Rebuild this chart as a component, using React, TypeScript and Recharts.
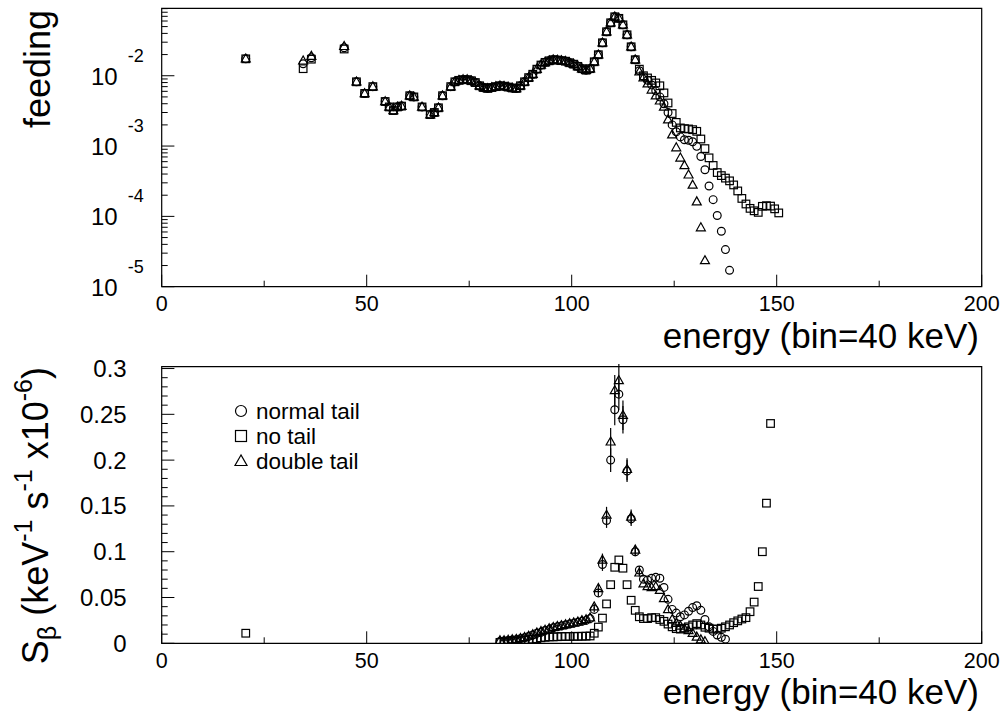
import React from 'react';
import { ScatterChart, Scatter, XAxis, YAxis, ErrorBar, ReferenceArea } from 'recharts';

// ---------- axis ticks ----------
const X_TICKS = [0, 25, 50, 75, 100, 125, 150, 175, 200];
const X_MAJOR = [0, 50, 100, 150, 200];
const TOP_DECADES = [1e-5, 1e-4, 1e-3, 1e-2];
const TOP_DECADE_EXP = ['-5', '-4', '-3', '-2'];
const TOP_MINOR_MULT = [2, 3, 4, 5, 6, 7, 8, 9];
const TOP_Y_DOMAIN: [number, number] = [1e-5, 0.091];
const BOT_Y_TICKS = [0, 0.01, 0.02, 0.03, 0.04, 0.05, 0.06, 0.07, 0.08, 0.09, 0.1, 0.11, 0.12, 0.13, 0.14, 0.15, 0.16, 0.17, 0.18, 0.19, 0.2, 0.21, 0.22, 0.23, 0.24, 0.25, 0.26, 0.27, 0.28, 0.29, 0.3];
const BOT_Y_MAJOR = [0, 0.05, 0.1, 0.15, 0.2, 0.25, 0.3];
const BOT_Y_LABELS = ['0', '0.05', '0.1', '0.15', '0.2', '0.25', '0.3'];
const BOT_Y_DOMAIN: [number, number] = [0, 0.302];

const LEGEND = ['normal tail', 'no tail', 'double tail'];

// ---------- top panel: feeding (log) ----------
const topShared: [number, number][] = [
  [20.5, 0.0174], [47.5, 0.0082], [49.5, 0.0056], [51.5, 0.0070], [54.5, 0.0043],
  [55.5, 0.0036], [56.5, 0.0032], [57.5, 0.0036], [58.5, 0.0037], [60.5, 0.0052],
  [61.5, 0.0050], [63.5, 0.0036], [65.5, 0.0028], [66.5, 0.0030], [67.5, 0.0035],
  [68.5, 0.0052], [70.5, 0.0070], [71.5, 0.0082], [72.5, 0.0086], [73.5, 0.0088],
  [74.5, 0.0088], [75.5, 0.0085], [76.5, 0.0080], [77.5, 0.0072], [78.5, 0.0068],
  [79.5, 0.0066], [80.5, 0.0068], [81.5, 0.0070], [82.5, 0.0072], [83.5, 0.0071],
  [84.5, 0.0069], [85.5, 0.0067], [86.5, 0.0066], [87.5, 0.0072], [88.5, 0.0082],
  [89.5, 0.0094], [90.5, 0.0105], [91.5, 0.0124], [92.5, 0.0142], [93.5, 0.0155],
  [94.5, 0.0163], [95.5, 0.0169], [96.5, 0.0167], [97.5, 0.0164], [98.5, 0.0161],
  [99.5, 0.0153], [100.5, 0.0146], [101.5, 0.0136], [102.5, 0.0126], [103.5, 0.0120],
  [104.5, 0.0126], [105.5, 0.0158], [106.5, 0.0199], [107.5, 0.0294], [108.5, 0.0422],
  [109.5, 0.0566], [110.5, 0.0689], [111.5, 0.0655], [112.5, 0.0530], [113.5, 0.0382],
  [114.5, 0.0258], [115.5, 0.0169],
];
const topNormal: [number, number][] = [
  [34.5, 0.0148], [36.5, 0.0180], [44.5, 0.0250],
  [116.5, 0.0118], [117.5, 0.0097], [118.5, 0.0086], [119.5, 0.0074], [120.5, 0.0061],
  [121.5, 0.0050], [122.5, 0.0040], [123.5, 0.0030], [124.5, 0.0020], [125.5, 0.0016],
  [126.5, 0.00135], [127.5, 0.00123], [128.5, 0.00121], [129.5, 0.00115], [130.5, 0.00099],
  [131.5, 0.00071], [132.5, 0.00046], [133.5, 0.00027], [134.5, 0.000173], [135.5, 0.000103],
  [136.5, 0.0000614], [137.5, 0.0000337], [138.5, 0.0000171],
];
const topNoTail: [number, number][] = [
  [34.5, 0.0126], [36.5, 0.0172], [44.5, 0.0240],
  [116.5, 0.0124], [117.5, 0.0100], [118.5, 0.0093], [119.5, 0.0086], [120.5, 0.0079],
  [121.5, 0.0072], [122.5, 0.0057], [123.5, 0.0041], [124.5, 0.0029], [125.5, 0.00217],
  [126.5, 0.00181], [127.5, 0.00177], [128.5, 0.00175], [129.5, 0.00171], [130.5, 0.00162],
  [131.5, 0.00126], [132.5, 0.00092], [133.5, 0.00068], [134.5, 0.00053], [135.5, 0.00042],
  [136.5, 0.00038], [137.5, 0.00035], [138.5, 0.00032], [139.5, 0.00028], [140.5, 0.00023],
  [141.5, 0.00018], [142.5, 0.00015], [143.5, 0.00013], [144.5, 0.00012], [145.5, 0.000114],
  [146.5, 0.000139], [147.5, 0.000142], [148.5, 0.00014], [149.5, 0.000128], [150.5, 0.000112],
];
const topDouble: [number, number][] = [
  [34.5, 0.0163], [36.5, 0.0190], [44.5, 0.0262],
  [116.5, 0.0114], [117.5, 0.0094], [118.5, 0.0077], [119.5, 0.0063], [120.5, 0.0052],
  [121.5, 0.0044], [122.5, 0.0036], [123.5, 0.00237], [124.5, 0.00145], [125.5, 0.00095],
  [126.5, 0.00068], [127.5, 0.00053], [128.5, 0.00039], [129.5, 0.00028], [130.5, 0.000162],
  [131.5, 0.0000693], [132.5, 0.0000236],
];

// ---------- bottom panel: S_beta (linear) [energy, value, error] ----------
const botNormal: [number, number, number][] = [
  [82.5, 0.002, 0], [83.5, 0.0025, 0], [84.5, 0.003, 0], [85.5, 0.0035, 0], [86.5, 0.004, 0],
  [87.5, 0.005, 0], [88.5, 0.006, 0], [89.5, 0.0075, 0], [90.5, 0.009, 0], [91.5, 0.011, 0],
  [92.5, 0.012, 0], [93.5, 0.014, 0], [94.5, 0.015, 0], [95.5, 0.017, 0], [96.5, 0.018, 0],
  [97.5, 0.019, 0], [98.5, 0.020, 0], [99.5, 0.021, 0], [100.5, 0.022, 0], [101.5, 0.023, 0],
  [102.5, 0.024, 0], [103.5, 0.025, 0], [104.5, 0.027, 0], [105.5, 0.037, 0.003], [106.5, 0.055, 0.004],
  [107.5, 0.086, 0.007], [108.5, 0.134, 0.008], [109.5, 0.200, 0.013], [110.5, 0.255, 0.017], [111.5, 0.272, 0.017],
  [112.5, 0.244, 0.015], [113.5, 0.188, 0.012], [114.5, 0.136, 0.008], [115.5, 0.100, 0.005], [116.5, 0.080, 0.004],
  [117.5, 0.070, 0], [118.5, 0.069, 0], [119.5, 0.071, 0], [120.5, 0.072, 0], [121.5, 0.071, 0],
  [122.5, 0.061, 0], [123.5, 0.048, 0], [124.5, 0.037, 0], [125.5, 0.033, 0], [126.5, 0.029, 0],
  [127.5, 0.031, 0], [128.5, 0.035, 0], [129.5, 0.039, 0], [130.5, 0.041, 0], [131.5, 0.036, 0],
  [132.5, 0.026, 0], [133.5, 0.018, 0], [134.5, 0.013, 0], [135.5, 0.009, 0], [136.5, 0.0065, 0],
  [137.5, 0.0045, 0],
];
const botNoTail: [number, number, number][] = [
  [20.5, 0.011, 0],
  [82.5, 0.001, 0], [83.5, 0.0015, 0], [84.5, 0.002, 0], [85.5, 0.002, 0], [86.5, 0.0025, 0],
  [87.5, 0.003, 0], [88.5, 0.0035, 0], [89.5, 0.004, 0], [90.5, 0.0045, 0], [91.5, 0.005, 0],
  [92.5, 0.006, 0], [93.5, 0.0065, 0], [94.5, 0.007, 0], [95.5, 0.007, 0], [96.5, 0.0072, 0],
  [97.5, 0.0074, 0], [98.5, 0.0075, 0], [99.5, 0.0075, 0], [100.5, 0.0076, 0], [101.5, 0.0076, 0],
  [102.5, 0.0077, 0], [103.5, 0.0078, 0], [104.5, 0.008, 0], [105.5, 0.011, 0], [106.5, 0.0177, 0],
  [107.5, 0.0275, 0], [108.5, 0.043, 0], [109.5, 0.064, 0], [110.5, 0.083, 0], [111.5, 0.091, 0],
  [112.5, 0.082, 0], [113.5, 0.064, 0], [114.5, 0.047, 0], [115.5, 0.036, 0], [116.5, 0.029, 0],
  [117.5, 0.027, 0], [118.5, 0.027, 0], [119.5, 0.028, 0], [120.5, 0.028, 0], [121.5, 0.026, 0],
  [122.5, 0.024, 0], [123.5, 0.021, 0], [124.5, 0.018, 0], [125.5, 0.016, 0], [126.5, 0.0155, 0],
  [127.5, 0.0165, 0], [128.5, 0.018, 0], [129.5, 0.020, 0], [130.5, 0.0215, 0], [131.5, 0.020, 0],
  [132.5, 0.0175, 0], [133.5, 0.0165, 0], [134.5, 0.0155, 0], [135.5, 0.0155, 0], [136.5, 0.0165, 0],
  [137.5, 0.018, 0], [138.5, 0.020, 0], [139.5, 0.0225, 0], [140.5, 0.0245, 0], [141.5, 0.0265, 0],
  [142.5, 0.028, 0], [143.5, 0.0345, 0], [144.5, 0.045, 0], [145.5, 0.062, 0], [146.5, 0.100, 0],
  [147.5, 0.153, 0], [148.5, 0.240, 0],
];
const botDouble: [number, number, number][] = [
  [82.5, 0.003, 0], [83.5, 0.003, 0], [84.5, 0.0035, 0], [85.5, 0.004, 0], [86.5, 0.0045, 0],
  [87.5, 0.0055, 0], [88.5, 0.0065, 0], [89.5, 0.008, 0], [90.5, 0.0095, 0], [91.5, 0.0115, 0],
  [92.5, 0.013, 0], [93.5, 0.0145, 0], [94.5, 0.016, 0], [95.5, 0.0175, 0], [96.5, 0.0185, 0],
  [97.5, 0.0195, 0], [98.5, 0.0205, 0], [99.5, 0.0215, 0], [100.5, 0.0225, 0], [101.5, 0.0235, 0],
  [102.5, 0.025, 0], [103.5, 0.026, 0], [104.5, 0.028, 0], [105.5, 0.040, 0.003], [106.5, 0.060, 0.004],
  [107.5, 0.091, 0.007], [108.5, 0.140, 0.009], [109.5, 0.220, 0.015], [110.5, 0.276, 0.017], [111.5, 0.287, 0.018],
  [112.5, 0.249, 0.016], [113.5, 0.190, 0.012], [114.5, 0.138, 0.008], [115.5, 0.102, 0.005], [116.5, 0.077, 0.004],
  [117.5, 0.065, 0], [118.5, 0.062, 0], [119.5, 0.061, 0], [120.5, 0.062, 0], [121.5, 0.058, 0],
  [122.5, 0.049, 0], [123.5, 0.037, 0], [124.5, 0.026, 0], [125.5, 0.022, 0], [126.5, 0.019, 0],
  [127.5, 0.016, 0], [128.5, 0.014, 0], [129.5, 0.011, 0], [130.5, 0.007, 0], [131.5, 0.004, 0],
  [132.5, 0.002, 0],
];

const FONT = '"Liberation Sans", Arial, Helvetica, sans-serif';
const SW = 1.2;

const toPts = (arr: [number, number][]) => arr.map(([x, y]) => ({ x, y }));
const toPtsE = (arr: [number, number, number][]) => arr.map(([x, y, e]) => ({ x, y, e }));

// ---------- marker shapes ----------
const CircleShape = (p: any) => {
  if (p.cx == null || p.cy == null) return null;
  return <circle cx={p.cx} cy={p.cy} r={3.9} fill="none" stroke="#000" strokeWidth={SW} />;
};
const SquareShape = (p: any) => {
  if (p.cx == null || p.cy == null) return null;
  return <rect x={p.cx - 3.8} y={p.cy - 3.8} width={7.6} height={7.6} fill="none" stroke="#000" strokeWidth={SW} />;
};
const TriangleShape = (p: any) => {
  if (p.cx == null || p.cy == null) return null;
  const { cx, cy } = p;
  return <polygon points={`${cx},${cy - 4.8} ${cx - 4.5},${cy + 3.2} ${cx + 4.5},${cy + 3.2}`} fill="none" stroke="#000" strokeWidth={SW} />;
};

// ---------- geometry ----------
const PLOT_LEFT = 161.7;
const PLOT_RIGHT = 981.7;
const W = 1005;
const YAX_W = 60;
const XAX_H = 30;

// ---------- ticks (drawn inward, ROOT style) ----------
const XTick = (p: any) => {
  const { x, payload, yTop } = p;
  const v = payload.value;
  const major = X_MAJOR.includes(v);
  return (
    <g>
      <line x1={x} x2={x} y1={yTop} y2={yTop - (major ? 12 : 6)} stroke="#000" strokeWidth={1} />
      {major && (
        <text x={x} y={yTop + 24.5} textAnchor="middle" fontSize={21.5} fontFamily={FONT} fill="#000">
          {String(v)}
        </text>
      )}
    </g>
  );
};

const TopYTick = (p: any) => {
  const { y, payload } = p;
  const x = PLOT_LEFT;
  const v = payload.value;
  const idx = TOP_DECADES.findIndex((d) => Math.abs(d - v) / d < 1e-6);
  const major = idx >= 0;
  return (
    <g>
      <line x1={x} x2={x + (major ? 12.7 : 6)} y1={y} y2={y} stroke="#000" strokeWidth={1} />
      {major && (
        <text x={x - 44} y={y + 9} textAnchor="end" fontSize={24} fontFamily={FONT} fill="#000">10</text>
      )}
      {major && (
        <text x={x - 34} y={y - 14} textAnchor="start" fontSize={18} fontFamily={FONT} fill="#000">
          {TOP_DECADE_EXP[idx]}
        </text>
      )}
    </g>
  );
};

const BotYTick = (p: any) => {
  const { y, payload } = p;
  const x = PLOT_LEFT;
  const v = payload.value;
  const idx = BOT_Y_MAJOR.findIndex((m) => Math.abs(m - v) < 1e-9);
  const major = idx >= 0;
  return (
    <g>
      <line x1={x} x2={x + (major ? 12.7 : 6)} y1={y} y2={y} stroke="#000" strokeWidth={1} />
      {major && (
        <text x={x - 35} y={y + 8.5} textAnchor="end" fontSize={24} fontFamily={FONT} fill="#000">
          {BOT_Y_LABELS[idx]}
        </text>
      )}
    </g>
  );
};

const topYTicks: number[] = [];
TOP_DECADES.forEach((d) => {
  topYTicks.push(d);
  TOP_MINOR_MULT.forEach((m) => {
    const t = d * m;
    if (t <= TOP_Y_DOMAIN[1]) topYTicks.push(t);
  });
});

const TOP_H = 340;
const TOP_PLOT_TOP = 8.3;
const TOP_PLOT_BOTTOM = 286.7;
const BOT_OFFSET = 340;
const BOT_H = 379;
const BOT_PLOT_TOP = 366.7 - BOT_OFFSET;
const BOT_PLOT_BOTTOM = 643.3 - BOT_OFFSET;

export default function App() {
  return (
    <div style={{ position: 'absolute', left: 0, top: 0, width: 1005, height: 719, background: '#fff', fontFamily: FONT }}>
      {/* top panel */}
      <div style={{ position: 'absolute', left: 0, top: 0 }}>
        <ScatterChart width={W} height={TOP_H}
          margin={{ top: TOP_PLOT_TOP, right: W - PLOT_RIGHT, bottom: TOP_H - TOP_PLOT_BOTTOM - XAX_H, left: PLOT_LEFT - YAX_W }}>
          <XAxis type="number" dataKey="x" domain={[0, 200]} ticks={X_TICKS} interval={0} height={XAX_H}
            axisLine={false} tickLine={false} tick={<XTick yTop={TOP_PLOT_BOTTOM} />} allowDataOverflow />
          <YAxis type="number" dataKey="y" scale="log" domain={TOP_Y_DOMAIN} ticks={topYTicks} interval={0} width={YAX_W}
            axisLine={false} tickLine={false} tick={<TopYTick />} allowDataOverflow />
          <ReferenceArea x1={0} x2={200} y1={TOP_Y_DOMAIN[0]} y2={TOP_Y_DOMAIN[1]} fill="none" stroke="#000" strokeWidth={1.2} ifOverflow="visible" />
          <Scatter name="shared-sq" data={toPts(topShared)} shape={SquareShape} isAnimationActive={false} />
          <Scatter name="shared-ci" data={toPts(topShared)} shape={CircleShape} isAnimationActive={false} />
          <Scatter name="shared-tr" data={toPts(topShared)} shape={TriangleShape} isAnimationActive={false} />
          <Scatter name="no tail" data={toPts(topNoTail)} shape={SquareShape} isAnimationActive={false} />
          <Scatter name="normal tail" data={toPts(topNormal)} shape={CircleShape} isAnimationActive={false} />
          <Scatter name="double tail" data={toPts(topDouble)} shape={TriangleShape} isAnimationActive={false} />
        </ScatterChart>
      </div>

      {/* bottom panel */}
      <div style={{ position: 'absolute', left: 0, top: BOT_OFFSET }}>
        <ScatterChart width={W} height={BOT_H}
          margin={{ top: BOT_PLOT_TOP, right: W - PLOT_RIGHT, bottom: BOT_H - BOT_PLOT_BOTTOM - XAX_H, left: PLOT_LEFT - YAX_W }}>
          <XAxis type="number" dataKey="x" domain={[0, 200]} ticks={X_TICKS} interval={0} height={XAX_H}
            axisLine={false} tickLine={false} tick={<XTick yTop={BOT_PLOT_BOTTOM} />} allowDataOverflow />
          <YAxis type="number" dataKey="y" domain={BOT_Y_DOMAIN} ticks={BOT_Y_TICKS} interval={0} width={YAX_W}
            axisLine={false} tickLine={false} tick={<BotYTick />} allowDataOverflow />
          <ReferenceArea x1={0} x2={200} y1={BOT_Y_DOMAIN[0]} y2={BOT_Y_DOMAIN[1]} fill="none" stroke="#000" strokeWidth={1.2} ifOverflow="visible" />
          <Scatter name="no tail" data={toPtsE(botNoTail)} shape={SquareShape} isAnimationActive={false} />
          <Scatter name="normal tail" data={toPtsE(botNormal)} shape={CircleShape} isAnimationActive={false}>
            <ErrorBar dataKey="e" direction="y" width={0} stroke="#000" strokeWidth={1.2} />
          </Scatter>
          <Scatter name="double tail" data={toPtsE(botDouble)} shape={TriangleShape} isAnimationActive={false}>
            <ErrorBar dataKey="e" direction="y" width={0} stroke="#000" strokeWidth={1.2} />
          </Scatter>
        </ScatterChart>
      </div>

      {/* titles and legend */}
      <svg width={1005} height={719} style={{ position: 'absolute', left: 0, top: 0, pointerEvents: 'none' }}>
        <g fontFamily={FONT} fill="#000">
          <text transform="translate(50,10) rotate(-90)" textAnchor="end" fontSize={36}>feeding</text>
          <text x={979} y={348} textAnchor="end" fontSize={35}>energy (bin=40 keV)</text>
          <text x={979} y={704} textAnchor="end" fontSize={35}>energy (bin=40 keV)</text>
          <text transform="translate(48,367) rotate(-90)" textAnchor="end" fontSize={36}>
            S<tspan fontSize={25} dy={8}>β</tspan>
            <tspan dy={-8}> (keV</tspan>
            <tspan fontSize={25} dy={-16}>-1</tspan>
            <tspan dy={16}> s</tspan>
            <tspan fontSize={25} dy={-16}>-1</tspan>
            <tspan dy={16}> x10</tspan>
            <tspan fontSize={25} dy={-16}>-6</tspan>
            <tspan dy={16}>)</tspan>
          </text>
          {/* legend */}
          <circle cx={241} cy={411} r={5.5} fill="none" stroke="#000" strokeWidth={SW} />
          <text x={256} y={419} fontSize={22.5}>{LEGEND[0]}</text>
          <rect x={235.5} y={430.5} width={11} height={11} fill="none" stroke="#000" strokeWidth={SW} />
          <text x={256} y={444} fontSize={22.5}>{LEGEND[1]}</text>
          <polygon points="241,455 235,465.5 247,465.5" fill="none" stroke="#000" strokeWidth={SW} />
          <text x={256} y={469} fontSize={22.5}>{LEGEND[2]}</text>
        </g>
      </svg>
    </div>
  );
}
